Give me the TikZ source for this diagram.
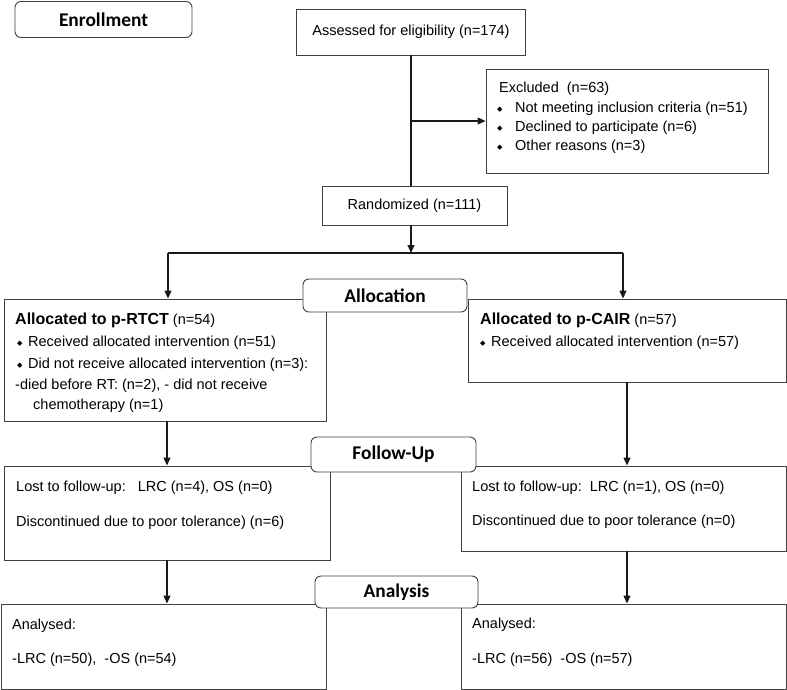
\documentclass[tikz,border=0pt]{standalone}
\usepackage{fontspec}
\setmainfont{Liberation Sans}
\newfontfamily\headfamily{Carlito}
\newfontfamily\symfamily{DejaVu Sans}
\usetikzlibrary{arrows.meta,calc}

\newcommand{\bodyfnt}{\fontsize{14.5}{21}\selectfont}
\newcommand{\titlefnt}{\fontsize{16}{21}\selectfont\bfseries}
\newcommand{\headfnt}{\headfamily\fontsize{19.4}{22}\selectfont\bfseries}
\newcommand{\bul}[1]{\makebox[#1][l]{\raisebox{1pt}{\symfamily\fontsize{7}{7}\selectfont ◆}}}

\tikzset{
    box/.style={draw=black!75, line width=0.9pt, inner sep=0pt},
    head/.style={box, rounded corners=6pt, fill=white, font=\headfnt},
    body/.style={font=\bodyfnt, align=left, inner sep=0pt, anchor=north west},
    arr/.style={draw=black!90, line width=1.1pt, -{Triangle[length=8pt,width=7pt]}},
    link/.style={draw=black!90, line width=1.1pt}
}

\begin{document}
\begin{tikzpicture}[x=1pt,y=-1pt]
    \useasboundingbox (0,0) rectangle (787,690);

    % Enrollment
    \node[head, minimum width=177, minimum height=36] (enroll) at (103.5,19.5) {Enrollment};
    \node[box, minimum width=229, minimum height=46, font=\bodyfnt] (assess) at (411,32) {Assessed for eligibility (n=174)};
    \node[box, minimum width=282, minimum height=104] (excl) at (627,121) {};
    \node[body, font=\fontsize{14.5}{19.3}\selectfont] (excltxt) at (497,82) {%
        \hspace*{2pt}Excluded\ \ (n=63)\\
        \bul{18pt}Not meeting inclusion criteria (n=51)\\
        \bul{18pt}Declined to participate (n=6)\\
        \bul{18pt}Other reasons (n=3)};
    \node[box, minimum width=185, minimum height=39, font=\bodyfnt] (rand) at (414.5,205.5) {Randomized (n=111)};

    % Allocation
    \node[box, minimum width=322, minimum height=122] (rtct) at (165,360) {};
    \node[body] (rtcttxt) at (15,313) {%
        {\titlefnt Allocated to p-RTCT} (n=54)\\[1pt]
        \hspace*{2pt}\bul{11pt}Received allocated intervention (n=51)\\[1pt]
        \hspace*{2pt}\bul{11pt}Did not receive allocated intervention (n=3):\\
        -died before RT: (n=2), - did not receive\\[-1pt]
        \hspace*{18pt}chemotherapy (n=1)};
    \node[box, minimum width=318, minimum height=83] (cair) at (627,340.5) {};
    \node[body] (cairtxt) at (480,313) {%
        {\titlefnt Allocated to p-CAIR} (n=57)\\[1pt]
        \bul{11pt}Received allocated intervention (n=57)};

    % Follow-Up
    \node[box, minimum width=326, minimum height=94] (fuL) at (167,513) {};
    \node[body] (fuLtxt) at (16,481) {%
        Lost to follow-up:\ \ \ LRC (n=4), OS (n=0)\\[14pt]
        Discontinued due to poor tolerance) (n=6)};
    \node[box, minimum width=325, minimum height=85] (fuR) at (623.5,508.5) {};
    \node[body] (fuRtxt) at (472,481) {%
        Lost to follow-up:\ \ LRC (n=1), OS (n=0)\\[13pt]
        Discontinued due to poor tolerance (n=0)};

    % Analysis
    \node[box, minimum width=325, minimum height=85] (anL) at (163.5,646.5) {};
    \node[body] (anLtxt) at (12,619) {%
        Analysed:\\[13pt]
        -LRC (n=50),\ \ -OS (n=54)};
    \node[box, minimum width=325, minimum height=85] (anR) at (623.5,646.5) {};
    \node[body] (anRtxt) at (472,618) {%
        Analysed:\\[14pt]
        -LRC (n=56)\ \ -OS (n=57)};

    % Connectors
    \draw[link] (assess.south) -- (assess.south |- rand.north);
    \draw[arr] (assess.south |- excl.west) -- (excl.west);
    \coordinate (split) at (411,253);
    \coordinate (splitL) at (168,253);
    \coordinate (splitR) at (623,253);
    \draw[arr] (assess.south |- rand.south) -- (split);
    \draw[link] (splitL) -- (splitR);
    \draw[arr] (splitL) -- (splitL |- rtct.north);
    \draw[arr] (splitR) -- (splitR |- cair.north);
    \draw[arr] (fuL.north |- rtct.south) -- (fuL.north);
    \draw[arr] (fuL.south) -- (fuL.south |- anL.north);
    \draw[arr] (cair.south) -- (cair.south |- fuR.north);
    \draw[arr] (cair.south |- fuR.south) -- (cair.south |- anR.north);

    % Section headers
    \foreach \name/\x/\y/\w/\h/\label in {
        alloc/385/295.5/164/33/Allocation,
        follow/393.5/454.5/165/35/Follow-Up,
        analysis/396.5/592/163/32/Analysis
    }
    {
        \node[head, minimum width=\w, minimum height=\h] (\name) at (\x,\y) {\label};
    }

\end{tikzpicture}
\end{document}
